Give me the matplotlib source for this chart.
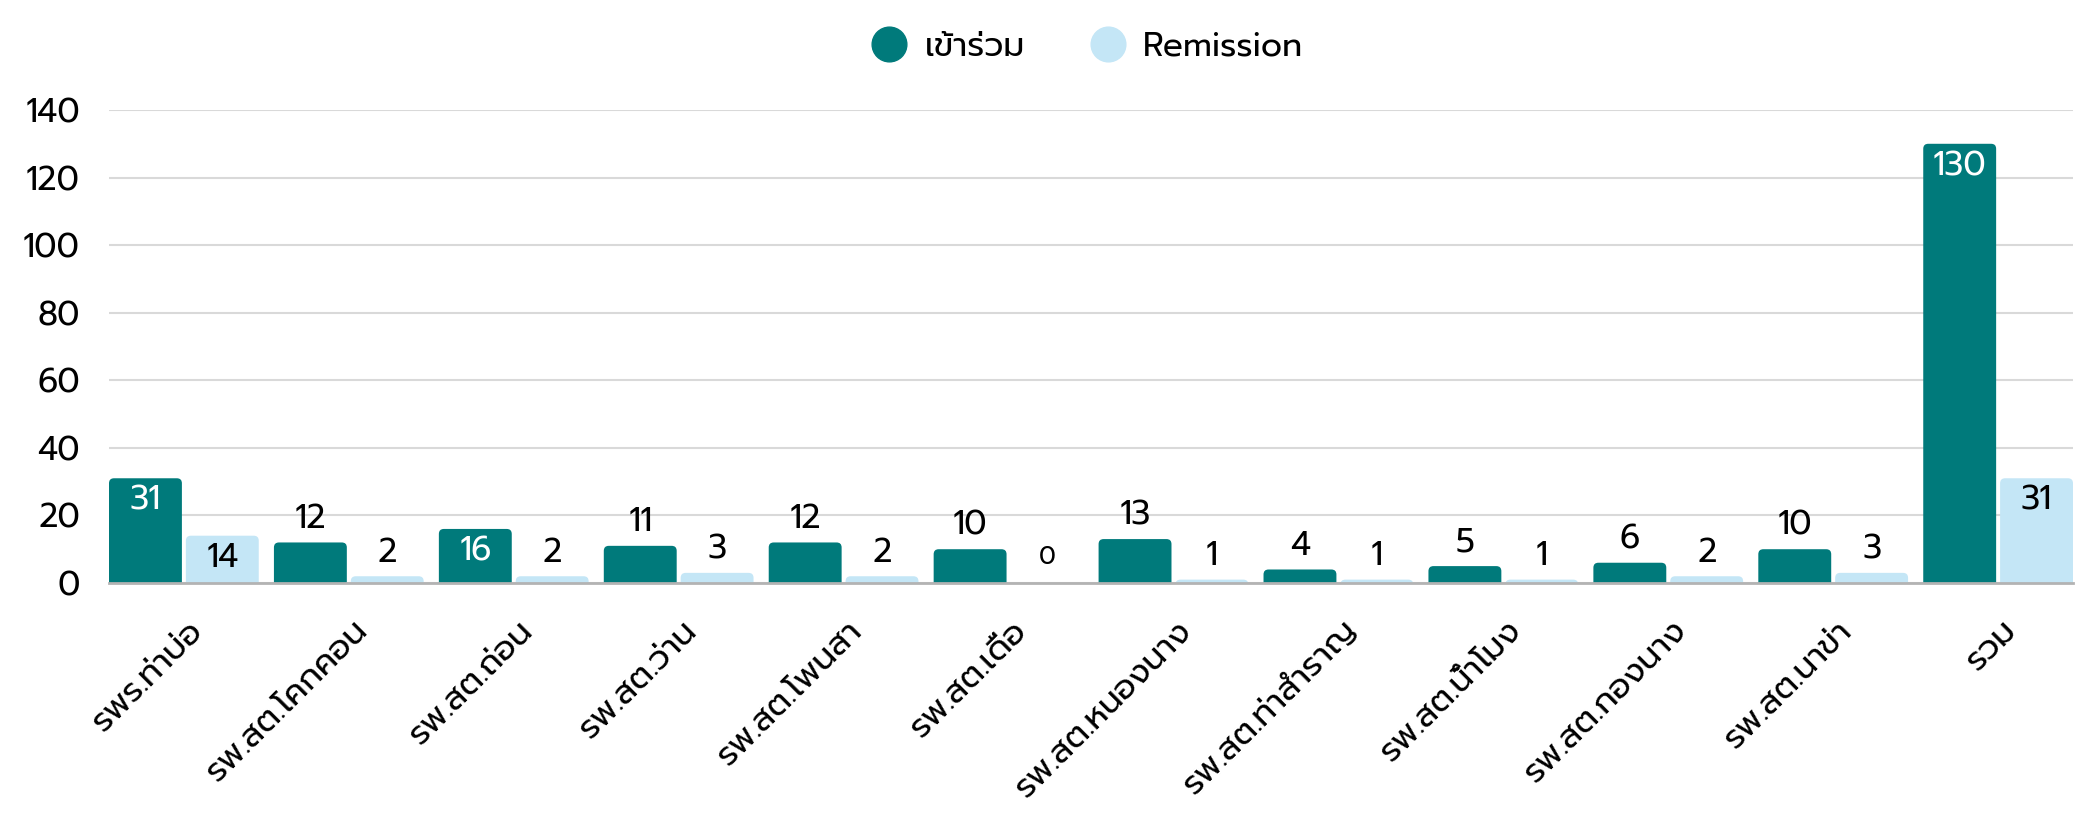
import matplotlib
matplotlib.use("Agg")
import matplotlib.pyplot as plt
import matplotlib.transforms as mtrans
from matplotlib.patches import FancyBboxPatch
import numpy as np

# data
sites = ["รพร.ท่าบ่อ", "รพ.สต.โคกคอน", "รพ.สต.ถ่อน", "รพ.สต.ว่าน", "รพ.สต.โพนสา",
         "รพ.สต.เดื่อ", "รพ.สต.หนองนาง", "รพ.สต.ท่าสำราญ", "รพ.สต.น้ำโมง",
         "รพ.สต.กองนาง", "รพ.สต.นาข่า", "รวม"]
joined = [31, 12, 16, 11, 12, 10, 13, 4, 5, 6, 10, 130]
remission = [14, 2, 2, 3, 2, 0, 1, 1, 1, 2, 3, 31]
series_names = ["เข้าร่วม", "Remission"]
yticks = [0, 20, 40, 60, 80, 100, 120, 140]

plt.rcParams["font.family"] = ["Prompt", "DejaVu Sans"]

teal = "#007A7B"
light = "#C4E6F6"

fig = plt.figure(figsize=(20.75, 8.21), dpi=100)
W, H = 2075, 821
ax = fig.add_axes([109 / W, 1 - 583 / H, (2073 - 109) / W, (583 - 110) / H])

x = np.arange(len(sites))
w = 0.442
gap = 0.024
ax.set_xlim(-w - gap / 2, len(sites) - 1 + w + gap / 2)
ax.set_ylim(0, 140)

# pixels per data unit, for rounded bar tops
p0 = ax.transData.transform((0, 0))
p1 = ax.transData.transform((1, 1))
px_x, px_y = p1 - p0
r = 5 / px_x
aspect = px_x / px_y
ext = 12 / px_y


def rbars(xs, vals, color):
    out = []
    for xc, v in zip(xs, vals):
        if v > 0:
            p = FancyBboxPatch((xc - w / 2, -ext), w, v + ext,
                               boxstyle=f"round,pad=0,rounding_size={r}",
                               mutation_aspect=aspect, fc=color, ec="none", zorder=3)
            ax.add_patch(p)
        out.append((xc, v))
    return out


b1 = rbars(x - w / 2 - gap / 2, joined, teal)
b2 = rbars(x + w / 2 + gap / 2, remission, light)

ax.set_yticks(yticks)
ax.grid(axis="y", color="#d9d9d9", lw=1.5, zorder=0)
for s in ["top", "right", "left"]:
    ax.spines[s].set_visible(False)
ax.spines["bottom"].set_color("#b3b3b3")
ax.spines["bottom"].set_linewidth(2)
ax.spines["bottom"].set_zorder(4)
ax.tick_params(axis="y", length=0, pad=21, labelsize=24)
ax.tick_params(axis="x", length=0)

ax.set_xticks(x)
ax.set_xticklabels(sites, rotation=45, ha="right", va="center",
                   rotation_mode="anchor", fontsize=24)
off = mtrans.ScaledTranslation(14 / 100, -38 / 100, fig.dpi_scale_trans)
for lab in ax.get_xticklabels():
    lab.set_transform(lab.get_transform() + off)


def label(bars, incolor):
    for cx, v in bars:
        if v >= 14:
            ax.annotate(str(v), (cx, v), xytext=(0, -23), textcoords="offset pixels",
                        ha="center", va="center", fontsize=24, color=incolor, zorder=5)
        elif v == 0:
            ax.annotate(str(v), (cx, v), xytext=(0, 26), textcoords="offset pixels",
                        ha="center", va="center", fontsize=18, color="black", zorder=5)
        else:
            ax.annotate(str(v), (cx, v), xytext=(0, 23), textcoords="offset pixels",
                        ha="center", va="center", fontsize=24, color="black", zorder=5)


label(b1, "white")
label(b2, "black")

# legend
fig.legend(handles=[plt.Line2D([], [], ls="", marker="o", ms=25, color=teal),
                    plt.Line2D([], [], ls="", marker="o", ms=25, color=light)],
           labels=series_names, loc="center", bbox_to_anchor=(1088 / W, 1 - 47 / H),
           ncol=2, frameon=False, fontsize=24, handlelength=1.0,
           handletextpad=0.55, columnspacing=2.0)

fig.savefig("out.png", dpi=100)
